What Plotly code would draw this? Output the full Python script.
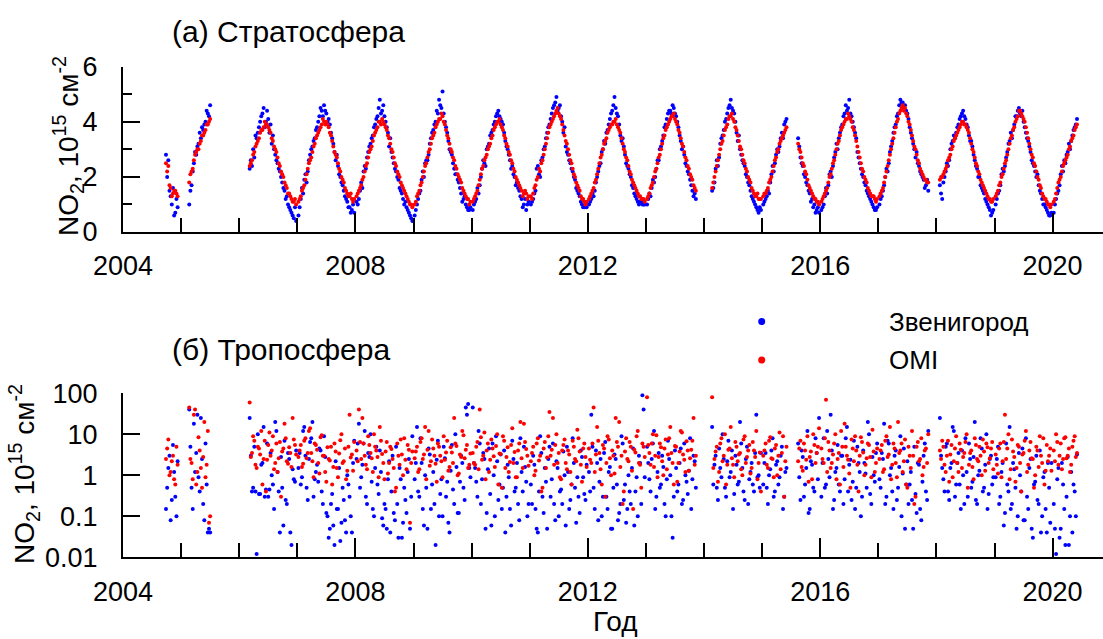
import plotly.graph_objects as go

# First measurement series: observation dates (decimal years), shared by both panels
obs_dates = [
    2004.74, 2004.78, 2004.82, 2004.86, 2004.90, 2004.94,
    2005.14, 2005.18, 2005.22, 2005.26, 2005.30, 2005.34, 2005.38, 2005.42, 2005.46, 2005.50,
    2006.18, 2006.22, 2006.26, 2006.30, 2006.34, 2006.38, 2006.42, 2006.46, 2006.50, 2006.54, 2006.58,
    2006.62, 2006.66, 2006.70, 2006.74, 2006.78, 2006.82, 2006.86, 2006.90, 2006.94, 2006.98,
    2007.02, 2007.06, 2007.10, 2007.14, 2007.18, 2007.22, 2007.26, 2007.30, 2007.34, 2007.38, 2007.42, 2007.46,
    2007.50, 2007.54, 2007.58, 2007.62, 2007.66, 2007.70, 2007.74, 2007.78, 2007.82, 2007.86, 2007.90, 2007.94, 2007.98,
    2008.02, 2008.06, 2008.10, 2008.14, 2008.18, 2008.22, 2008.26, 2008.30, 2008.34, 2008.38, 2008.42, 2008.46,
    2008.50, 2008.54, 2008.58, 2008.62, 2008.66, 2008.70, 2008.74, 2008.78, 2008.82, 2008.86, 2008.90, 2008.94, 2008.98,
    2009.02, 2009.06, 2009.10, 2009.14, 2009.18, 2009.22, 2009.26, 2009.30, 2009.34, 2009.38, 2009.42, 2009.46,
    2009.50, 2009.54, 2009.58, 2009.62, 2009.66, 2009.70, 2009.74, 2009.78, 2009.82, 2009.86, 2009.90, 2009.94, 2009.98,
    2010.02, 2010.06, 2010.10, 2010.14, 2010.18, 2010.22, 2010.26, 2010.30, 2010.34, 2010.38, 2010.42, 2010.46,
    2010.50, 2010.54, 2010.58, 2010.62, 2010.66, 2010.70, 2010.74, 2010.78, 2010.82, 2010.86, 2010.90, 2010.94, 2010.98,
    2011.02, 2011.06, 2011.10, 2011.14, 2011.18, 2011.22, 2011.26, 2011.30, 2011.34, 2011.38, 2011.42, 2011.46,
    2011.50, 2011.54, 2011.58, 2011.62, 2011.66, 2011.70, 2011.74, 2011.78, 2011.82, 2011.86, 2011.90, 2011.94, 2011.98,
    2012.02, 2012.06, 2012.10, 2012.14, 2012.18, 2012.22, 2012.26, 2012.30, 2012.34, 2012.38, 2012.42, 2012.46,
    2012.50, 2012.54, 2012.58, 2012.62, 2012.66, 2012.70, 2012.74, 2012.78, 2012.82, 2012.86, 2012.90, 2012.94, 2012.98,
    2013.02, 2013.06, 2013.10, 2013.14, 2013.18, 2013.22, 2013.26, 2013.30, 2013.34, 2013.38, 2013.42, 2013.46,
    2013.50, 2013.54, 2013.58, 2013.62, 2013.66, 2013.70, 2013.74, 2013.78, 2013.82, 2013.86,
    2014.14, 2014.18, 2014.22, 2014.26, 2014.30, 2014.34, 2014.38, 2014.42, 2014.46, 2014.50, 2014.54,
    2014.58, 2014.62, 2014.66, 2014.70, 2014.74, 2014.78, 2014.82, 2014.86, 2014.90, 2014.94, 2014.98,
    2015.02, 2015.06, 2015.10, 2015.14, 2015.18, 2015.22, 2015.26, 2015.30, 2015.34, 2015.38, 2015.42,
    2015.62, 2015.66, 2015.70, 2015.74, 2015.78, 2015.82, 2015.86, 2015.90, 2015.94, 2015.98,
    2016.02, 2016.06, 2016.10, 2016.14, 2016.18, 2016.22, 2016.26, 2016.30, 2016.34, 2016.38, 2016.42, 2016.46,
    2016.50, 2016.54, 2016.58, 2016.62, 2016.66, 2016.70, 2016.74, 2016.78, 2016.82, 2016.86, 2016.90, 2016.94, 2016.98,
    2017.02, 2017.06, 2017.10, 2017.14, 2017.18, 2017.22, 2017.26, 2017.30, 2017.34, 2017.38, 2017.42, 2017.46,
    2017.50, 2017.54, 2017.58, 2017.62, 2017.66, 2017.70, 2017.74, 2017.78, 2017.82, 2017.86,
    2018.06, 2018.10, 2018.14, 2018.18, 2018.22, 2018.26, 2018.30, 2018.34, 2018.38, 2018.42, 2018.46, 2018.50,
    2018.54, 2018.58, 2018.62, 2018.66, 2018.70, 2018.74, 2018.78, 2018.82, 2018.86, 2018.90, 2018.94, 2018.98,
    2019.02, 2019.06, 2019.10, 2019.14, 2019.18, 2019.22, 2019.26, 2019.30, 2019.34, 2019.38, 2019.42, 2019.46,
    2019.50, 2019.54, 2019.58, 2019.62, 2019.66, 2019.70, 2019.74, 2019.78, 2019.82, 2019.86, 2019.90, 2019.94, 2019.98,
    2020.02, 2020.06, 2020.10, 2020.14, 2020.18, 2020.22, 2020.26, 2020.30, 2020.34, 2020.38, 2020.42,
]

# Stratospheric NO2 column, 10^15 cm^-2 — Zvenigorod station
strat_zvn = [
    2.8, 2.6, 1.3, 1.6, 0.7, 0.9,
    1.0, 1.7, 2.5, 2.8, 3.2, 3.4, 3.7, 4.0, 4.3, 4.6,
    2.3, 2.4, 2.7, 3.4, 3.8, 4.2, 4.5, 4.0, 4.1, 3.9, 3.5, 2.8, 2.5, 2.2, 1.8, 1.5, 1.3, 0.9, 0.7, 0.5, 0.4,
    0.6, 1.2, 1.4, 2.1, 2.2, 2.8, 3.1, 3.4, 3.8, 4.2, 4.4, 4.6, 4.3, 4.1, 3.6, 3.2, 2.6, 2.4, 2.0, 1.7, 1.3, 1.1, 0.9, 0.8, 0.7,
    1.1, 1.2, 1.8, 2.2, 2.3, 2.9, 3.2, 3.5, 3.9, 4.2, 4.8, 4.4, 4.2, 3.8, 3.1, 2.9, 2.5, 2.2, 1.9, 1.5, 1.2, 1.1, 0.8, 0.6, 0.4,
    0.6, 1.0, 1.4, 1.9, 2.0, 2.6, 2.8, 3.4, 3.7, 4.0, 4.3, 4.6, 5.1, 4.0, 3.6, 3.0, 2.8, 2.3, 2.1, 1.8, 1.4, 1.2, 1.0, 0.8, 0.9,
    0.8, 1.1, 1.6, 1.7, 2.3, 2.5, 3.0, 3.2, 3.6, 3.9, 4.2, 4.4, 4.1, 3.9, 3.3, 3.0, 2.6, 2.4, 2.0, 1.8, 1.5, 1.2, 1.0, 0.8, 1.1,
    1.0, 1.2, 1.5, 2.4, 2.0, 2.7, 3.1, 3.6, 3.9, 4.3, 4.6, 4.9, 4.5, 4.2, 3.6, 3.1, 2.8, 2.5, 2.2, 1.9, 1.5, 1.3, 1.0, 0.9, 0.9,
    1.0, 1.2, 1.3, 1.8, 2.2, 2.5, 3.0, 3.2, 3.7, 4.1, 4.4, 4.9, 4.3, 3.9, 3.3, 3.1, 2.5, 2.3, 2.0, 1.6, 1.3, 1.1, 1.1, 1.0, 1.0,
    1.0, 1.4, 1.6, 1.8, 2.3, 2.6, 3.1, 3.5, 3.9, 4.3, 4.4, 4.6, 4.3, 4.0, 3.5, 3.0, 2.8, 2.4, 2.1, 1.7, 1.3, 1.2,
    1.5, 1.8, 2.6, 2.7, 3.4, 3.7, 4.1, 4.5, 4.8, 4.4, 4.0, 3.3, 3.0, 2.6, 2.4, 2.0, 1.7, 1.3, 1.1, 0.9, 0.7, 0.8,
    1.0, 1.2, 1.5, 1.8, 2.4, 2.5, 3.0, 3.1, 3.6, 3.9, 4.1, 3.4, 2.7, 2.4, 2.0, 1.7, 1.4, 1.2, 1.0, 0.8, 0.7,
    0.8, 1.0, 1.6, 1.7, 2.2, 2.4, 2.9, 3.0, 3.6, 3.9, 4.3, 4.4, 4.8, 4.2, 3.8, 3.4, 2.7, 2.3, 2.0, 1.7, 1.4, 1.2, 1.0, 0.8, 0.9,
    1.0, 1.3, 1.7, 2.3, 2.5, 3.1, 3.6, 3.9, 4.3, 4.8, 4.7, 4.6, 4.3, 3.8, 3.4, 3.0, 2.9, 2.4, 2.1, 1.9, 1.7, 1.5,
    1.7, 1.2, 2.0, 2.5, 2.6, 3.2, 3.5, 3.6, 3.9, 4.2, 4.4, 4.1, 3.8, 3.3, 3.1, 2.6, 2.3, 2.0, 1.6, 1.4, 1.1, 0.9, 0.6, 0.8,
    1.0, 1.4, 1.7, 2.3, 2.4, 2.9, 3.3, 3.4, 3.9, 4.2, 4.5, 4.2, 4.0, 3.6, 3.3, 2.9, 2.5, 2.2, 2.1, 1.5, 1.2, 1.0, 0.8, 0.6, 0.7,
    0.7, 1.2, 1.5, 2.1, 2.2, 2.5, 2.9, 3.0, 3.5, 3.8, 4.1,
]

# Stratospheric NO2 column, 10^15 cm^-2 — OMI
strat_omi = [
    2.5, 2.4, 1.6, 1.4, 1.5, 1.3,
    1.8, 2.2, 2.6, 2.9, 3.0, 3.3, 3.5, 3.7, 3.9, 4.1,
    2.4, 2.6, 2.9, 3.2, 3.4, 3.7, 3.8, 3.9, 3.8, 3.6, 3.3, 3.0, 2.7, 2.4, 2.1, 1.8, 1.6, 1.4, 1.2, 1.1, 1.0,
    1.1, 1.3, 1.6, 1.9, 2.3, 2.6, 2.9, 3.2, 3.5, 3.7, 3.9, 4.0, 4.0, 3.8, 3.5, 3.1, 2.8, 2.5, 2.2, 1.9, 1.6, 1.4, 1.3, 1.2, 1.2,
    1.3, 1.5, 1.7, 2.0, 2.4, 2.7, 3.0, 3.3, 3.6, 3.8, 4.0, 4.1, 3.9, 3.7, 3.4, 3.0, 2.7, 2.4, 2.1, 1.8, 1.6, 1.4, 1.2, 1.0, 0.9,
    1.0, 1.3, 1.5, 1.8, 2.2, 2.5, 2.9, 3.2, 3.5, 3.8, 4.0, 4.1, 4.2, 3.9, 3.5, 3.2, 2.9, 2.6, 2.3, 2.0, 1.8, 1.5, 1.3, 1.2, 1.1,
    1.1, 1.3, 1.5, 1.9, 2.3, 2.6, 2.8, 3.1, 3.4, 3.7, 3.9, 4.0, 3.9, 3.7, 3.4, 3.1, 2.8, 2.5, 2.2, 1.9, 1.7, 1.5, 1.4, 1.4, 1.3,
    1.3, 1.4, 1.7, 2.0, 2.2, 2.6, 3.0, 3.4, 3.8, 4.0, 4.2, 4.4, 4.3, 4.1, 3.7, 3.3, 3.0, 2.6, 2.3, 2.0, 1.7, 1.5, 1.2, 1.1, 1.1,
    1.2, 1.4, 1.6, 1.9, 2.3, 2.7, 3.0, 3.3, 3.6, 3.8, 3.9, 4.0, 3.9, 3.7, 3.4, 3.0, 2.7, 2.4, 2.1, 1.8, 1.6, 1.4, 1.3, 1.2, 1.1,
    1.2, 1.4, 1.7, 2.0, 2.3, 2.7, 3.0, 3.4, 3.7, 3.9, 4.1, 4.2, 4.1, 3.9, 3.6, 3.2, 2.9, 2.6, 2.3, 2.0, 1.7, 1.5,
    1.6, 2.0, 2.4, 2.8, 3.2, 3.5, 3.8, 4.1, 4.2, 4.1, 3.8, 3.5, 3.1, 2.8, 2.5, 2.2, 1.9, 1.6, 1.4, 1.3, 1.2, 1.2,
    1.3, 1.4, 1.6, 1.9, 2.2, 2.6, 2.9, 3.2, 3.4, 3.6, 3.8, 3.2, 2.9, 2.5, 2.2, 1.9, 1.6, 1.4, 1.2, 1.1, 1.0,
    1.1, 1.3, 1.5, 1.8, 2.1, 2.5, 2.8, 3.2, 3.5, 3.8, 4.0, 4.1, 4.2, 4.0, 3.7, 3.3, 2.9, 2.5, 2.2, 1.9, 1.6, 1.4, 1.3, 1.2, 1.2,
    1.3, 1.5, 1.8, 2.2, 2.6, 3.0, 3.4, 3.8, 4.1, 4.4, 4.6, 4.5, 4.2, 3.9, 3.5, 3.1, 2.8, 2.5, 2.2, 2.0, 1.9, 1.8,
    1.9, 2.0, 2.2, 2.4, 2.7, 3.0, 3.3, 3.5, 3.7, 3.9, 4.0, 3.9, 3.7, 3.4, 3.0, 2.7, 2.4, 2.1, 1.8, 1.6, 1.4, 1.2, 1.1, 1.2,
    1.3, 1.5, 1.8, 2.1, 2.5, 2.8, 3.2, 3.5, 3.8, 4.1, 4.4, 4.3, 4.1, 3.8, 3.4, 3.0, 2.7, 2.4, 2.0, 1.7, 1.4, 1.2, 1.1, 1.0, 1.0,
    1.1, 1.4, 1.8, 2.0, 2.4, 2.6, 2.8, 3.1, 3.4, 3.7, 3.9,
]

# Tropospheric NO2 column, 10^15 cm^-2 — Zvenigorod station
trop_zvn = [
    0.15, 1.5, 0.08, 5.5, 0.3, 2.2,
    40, 0.5, 18, 3.5, 0.9, 25, 0.2, 6.0, 0.04, 0.04,
    25, 0.4, 5.0, 0.012, 0.35, 1.8, 15, 0.45, 0.3, 3.5, 0.6, 20, 1.2, 0.04, 0.5, 7.0, 0.2, 2.5, 0.02, 0.8, 4.0,
    1.5, 0.6, 12, 3.0, 0.25, 6.5, 20, 0.8, 1.8, 4.5, 0.4, 9.0, 0.12, 0.03, 0.2, 0.06, 2.2, 0.15, 0.025, 0.5, 0.08, 1.0, 0.3, 0.04, 7.0,
    2.5, 18, 0.9, 6.0, 0.3, 3.5, 10, 0.15, 1.5, 0.6, 4.0, 0.09, 0.2, 0.05, 2.2, 0.4, 0.12, 5.0, 0.03, 0.8, 0.07, 0.25, 1.2, 0.05, 9.0,
    0.8, 15, 0.3, 2.0, 0.06, 0.5, 4.5, 0.15, 1.2, 0.02, 7.0, 0.35, 0.1, 2.6, 0.7, 0.04, 5.5, 0.2, 1.6, 0.12, 3.0, 0.5, 45, 55, 0.9,
    45, 1.5, 0.3, 6.0, 0.8, 2.5, 0.12, 4.5, 0.06, 1.0, 9.0, 0.25, 3.2, 0.5, 0.04, 1.8, 0.15, 7.0, 0.4, 2.0, 0.08, 1.2, 5.0, 0.7, 0.2,
    0.6, 3.0, 0.15, 0.04, 9.0, 0.3, 1.5, 0.05, 5.0, 0.8, 0.2, 2.2, 0.1, 0.45, 3.8, 0.06, 1.2, 0.25, 8.0, 0.5, 0.9, 0.12, 2.8, 0.35, 1.8,
    1.2, 30, 0.5, 4.0, 0.08, 2.5, 0.3, 6.5, 0.15, 1.6, 0.05, 3.2, 0.6, 0.12, 9.0, 0.25, 0.07, 1.0, 0.2, 4.5, 0.4, 0.1, 2.0, 90, 0.9,
    5.0, 0.8, 2.5, 12, 0.3, 3.5, 0.6, 1.6, 0.1, 7.0, 1.0, 0.03, 4.0, 0.4, 2.0, 0.2, 6.0, 0.7, 1.3, 0.15, 3.0, 0.5,
    15, 1.8, 0.5, 4.5, 0.9, 2.5, 0.3, 7.0, 1.2, 0.15, 3.0, 0.6, 20, 1.5, 0.25, 5.0, 0.8, 2.0, 0.4, 30, 1.0, 3.5,
    0.6, 3.5, 0.2, 1.4, 8.0, 0.4, 2.2, 0.9, 5.0, 0.3, 1.5, 6.0, 0.25, 2.8, 0.6, 12, 0.15, 1.8, 0.4, 3.5, 25,
    0.3, 8.0, 0.6, 2.5, 30, 0.15, 1.2, 5.5, 0.4, 3.0, 0.8, 15, 1.8, 0.25, 7.0, 0.5, 2.0, 0.1, 4.0, 1.1, 20, 0.35, 2.8, 0.7, 6.0,
    0.8, 3.5, 18, 0.3, 6.0, 1.5, 0.15, 4.0, 0.5, 9.0, 1.1, 0.05, 2.2, 0.6, 0.25, 5.0, 0.12, 1.8, 0.08, 3.0, 0.4, 12,
    25, 1.5, 0.4, 6.0, 0.25, 2.0, 12, 0.6, 3.5, 0.15, 1.0, 8.0, 0.3, 2.5, 0.7, 20, 0.2, 1.3, 4.5, 0.5, 10, 0.35, 3.0, 0.9,
    0.9, 5.0, 0.3, 2.0, 0.12, 0.6, 15, 0.2, 1.4, 0.05, 3.5, 0.4, 0.08, 8.0, 0.15, 2.5, 0.03, 0.7, 0.25, 4.0, 0.1, 1.2, 0.04, 0.5, 2.0,
    0.2, 0.012, 1.5, 0.05, 0.6, 0.02, 2.8, 0.1, 0.04, 0.4, 3.2,
]

# Tropospheric NO2 column, 10^15 cm^-2 — OMI
trop_omi = [
    2.5, 7.5, 1.2, 3.0, 0.6, 1.8,
    45, 2.0, 30, 0.6, 8.5, 1.5, 2.8, 0.9, 12, 0.1,
    60, 3.5, 7.0, 1.5, 4.5, 12, 2.5, 0.4, 5.5, 3.0, 9.0, 2.0, 1.2, 6.5, 3.8, 18, 2.2, 4.8, 1.6, 7.5, 3.2,
    2.8, 5.5, 1.9, 8.0, 3.5, 14, 2.2, 6.0, 4.2, 1.1, 9.5, 3.0, 0.7, 2.5, 5.0, 1.6, 3.8, 0.9, 7.2, 2.0, 4.5, 1.3, 30, 3.2, 6.5,
    4.0, 40, 2.5, 6.0, 1.8, 9.0, 3.5, 1.2, 5.0, 2.8, 15, 3.3, 0.8, 6.5, 2.0, 4.4, 1.5, 0.5, 3.0, 7.5, 1.0, 2.4, 5.5, 0.07, 3.8,
    2.6, 5.0, 1.4, 8.0, 3.2, 0.8, 12, 2.2, 4.5, 1.9, 6.0, 3.0, 0.9, 2.4, 7.0, 1.6, 3.6, 25, 5.2, 1.1, 2.8, 9.5, 4.2, 1.5, 3.4,
    3.5, 1.8, 6.5, 40, 2.4, 11, 4.0, 1.2, 7.5, 2.9, 5.2, 0.6, 3.3, 9.0, 1.5, 4.8, 2.1, 14, 3.7, 0.9, 6.0, 2.6, 18, 4.4, 1.7,
    2.2, 5.0, 1.3, 8.0, 3.0, 0.5, 6.5, 2.7, 35, 4.2, 1.8, 10, 3.5, 0.8, 5.5, 2.0, 4.0, 1.2, 7.0, 2.5, 13, 3.8, 0.7, 6.0, 1.6,
    4.5, 2.0, 45, 3.2, 7.0, 1.4, 5.5, 0.3, 9.0, 2.6, 4.0, 1.1, 6.5, 20, 3.0, 0.4, 8.0, 2.2, 5.0, 0.15, 3.6, 12, 1.8, 6.0, 2.8,
    80, 3.5, 6.0, 1.6, 9.5, 2.8, 4.8, 1.0, 7.5, 3.2, 15, 2.0, 5.2, 0.7, 3.8, 11, 2.4, 6.8, 1.3, 4.2, 25, 3.0,
    80, 2.5, 5.0, 1.2, 8.0, 3.0, 0.6, 4.2, 15, 1.8, 6.5, 2.2, 3.5, 1.0, 9.0, 2.8, 5.5, 1.5, 4.0, 12, 2.0, 0.4,
    3.0, 6.0, 1.5, 8.5, 2.5, 4.5, 1.0, 11, 3.5, 0.3, 5.0, 2.2, 7.0, 1.3, 4.0, 9.0, 2.8, 0.8, 5.5, 3.5, 14,
    4.5, 2.0, 70, 6.5, 1.5, 3.2, 10, 2.5, 0.6, 5.0, 18, 3.0, 1.1, 7.5, 2.2, 4.0, 0.4, 8.5, 3.6, 1.8, 6.0, 2.8, 13, 1.2, 4.5,
    2.5, 5.5, 1.4, 9.0, 3.2, 0.8, 6.0, 2.0, 20, 4.0, 1.2, 7.5, 0.5, 3.0, 12, 0.2, 5.0, 2.2, 8.0, 1.6, 4.5, 10,
    4.0, 7.0, 1.8, 3.0, 0.7, 5.5, 2.2, 9.0, 1.2, 4.2, 2.8, 6.5, 0.5, 3.5, 1.6, 8.0, 2.5, 5.0, 1.0, 3.8, 6.0, 2.0, 4.5, 1.4,
    3.2, 1.1, 6.0, 2.2, 30, 4.5, 0.8, 7.5, 2.8, 1.5, 5.0, 0.4, 3.5, 12, 1.8, 6.5, 2.5, 1.0, 4.0, 9.0, 2.0, 0.6, 5.5, 3.0, 1.3,
    4.0, 10, 1.8, 6.0, 2.5, 8.5, 3.0, 1.2, 5.0, 9.0, 3.5,
]

# Second measurement series: observation dates (decimal years)
obs_dates_2 = [
    2004.76, 2004.80, 2004.84, 2004.88, 2004.92,
    2005.16, 2005.20, 2005.24, 2005.28, 2005.32, 2005.36, 2005.40, 2005.44, 2005.48,
    2006.20, 2006.24, 2006.28, 2006.32, 2006.36, 2006.40, 2006.44, 2006.48, 2006.52, 2006.56,
    2006.60, 2006.64, 2006.68, 2006.72, 2006.76, 2006.80, 2006.84, 2006.88, 2006.92, 2006.96,
    2007.04, 2007.08, 2007.12, 2007.16, 2007.20, 2007.24, 2007.28, 2007.32, 2007.36, 2007.40, 2007.44, 2007.48,
    2007.52, 2007.56, 2007.60, 2007.64, 2007.68, 2007.72, 2007.76, 2007.80, 2007.84, 2007.88, 2007.92, 2007.96,
    2008.04, 2008.08, 2008.12, 2008.16, 2008.20, 2008.24, 2008.28, 2008.32, 2008.36, 2008.40, 2008.44, 2008.48,
    2008.52, 2008.56, 2008.60, 2008.64, 2008.68, 2008.72, 2008.76, 2008.80, 2008.84, 2008.88, 2008.92, 2008.96,
    2009.04, 2009.08, 2009.12, 2009.16, 2009.20, 2009.24, 2009.28, 2009.32, 2009.36, 2009.40, 2009.44, 2009.48,
    2009.52, 2009.56, 2009.60, 2009.64, 2009.68, 2009.72, 2009.76, 2009.80, 2009.84, 2009.88, 2009.92, 2009.96,
    2010.04, 2010.08, 2010.12, 2010.16, 2010.20, 2010.24, 2010.28, 2010.32, 2010.36, 2010.40, 2010.44, 2010.48,
    2010.52, 2010.56, 2010.60, 2010.64, 2010.68, 2010.72, 2010.76, 2010.80, 2010.84, 2010.88, 2010.92, 2010.96,
    2011.04, 2011.08, 2011.12, 2011.16, 2011.20, 2011.24, 2011.28, 2011.32, 2011.36, 2011.40, 2011.44, 2011.48,
    2011.52, 2011.56, 2011.60, 2011.64, 2011.68, 2011.72, 2011.76, 2011.80, 2011.84, 2011.88, 2011.92, 2011.96,
    2012.04, 2012.08, 2012.12, 2012.16, 2012.20, 2012.24, 2012.28, 2012.32, 2012.36, 2012.40, 2012.44, 2012.48,
    2012.52, 2012.56, 2012.60, 2012.64, 2012.68, 2012.72, 2012.76, 2012.80, 2012.84, 2012.88, 2012.92, 2012.96,
    2013.04, 2013.08, 2013.12, 2013.16, 2013.20, 2013.24, 2013.28, 2013.32, 2013.36, 2013.40, 2013.44,
    2013.48, 2013.52, 2013.56, 2013.60, 2013.64, 2013.68, 2013.72, 2013.76, 2013.80, 2013.84,
    2014.16, 2014.20, 2014.24, 2014.28, 2014.32, 2014.36, 2014.40, 2014.44, 2014.48, 2014.52, 2014.56,
    2014.60, 2014.64, 2014.68, 2014.72, 2014.76, 2014.80, 2014.84, 2014.88, 2014.92, 2014.96,
    2015.04, 2015.08, 2015.12, 2015.16, 2015.20, 2015.24, 2015.28, 2015.32, 2015.36, 2015.40,
    2015.64, 2015.68, 2015.72, 2015.76, 2015.80, 2015.84, 2015.88, 2015.92, 2015.96,
    2016.04, 2016.08, 2016.12, 2016.16, 2016.20, 2016.24, 2016.28, 2016.32, 2016.36, 2016.40, 2016.44, 2016.48,
    2016.52, 2016.56, 2016.60, 2016.64, 2016.68, 2016.72, 2016.76, 2016.80, 2016.84, 2016.88, 2016.92, 2016.96,
    2017.04, 2017.08, 2017.12, 2017.16, 2017.20, 2017.24, 2017.28, 2017.32, 2017.36, 2017.40, 2017.44,
    2017.48, 2017.52, 2017.56, 2017.60, 2017.64, 2017.68, 2017.72, 2017.76, 2017.80, 2017.84,
    2018.08, 2018.12, 2018.16, 2018.20, 2018.24, 2018.28, 2018.32, 2018.36, 2018.40, 2018.44, 2018.48, 2018.52,
    2018.56, 2018.60, 2018.64, 2018.68, 2018.72, 2018.76, 2018.80, 2018.84, 2018.88, 2018.92, 2018.96,
    2019.04, 2019.08, 2019.12, 2019.16, 2019.20, 2019.24, 2019.28, 2019.32, 2019.36, 2019.40, 2019.44, 2019.48,
    2019.52, 2019.56, 2019.60, 2019.64, 2019.68, 2019.72, 2019.76, 2019.80, 2019.84, 2019.88, 2019.92, 2019.96,
    2020.04, 2020.08, 2020.12, 2020.16, 2020.20, 2020.24, 2020.28, 2020.32, 2020.36, 2020.40,
]

strat_zvn_2 = [
    2.0, 1.5, 1.0, 0.6, 1.2,
    1.5, 2.2, 2.9, 3.1, 3.6, 3.8, 3.9, 4.4, 4.2,
    2.6, 3.0, 3.5, 3.6, 4.0, 4.3, 3.8, 4.4, 3.6, 3.2, 3.0, 2.6, 2.3, 2.0, 1.6, 1.2, 1.0, 0.8, 0.6, 0.9,
    0.9, 1.6, 1.9, 1.8, 2.6, 3.0, 3.3, 3.7, 4.0, 4.5, 4.2, 4.4, 4.0, 3.9, 3.4, 2.9, 2.8, 2.1, 1.8, 1.5, 1.2, 0.9, 0.7, 1.0,
    1.0, 1.5, 1.6, 2.4, 2.7, 3.1, 3.4, 3.8, 4.1, 4.5, 4.3, 4.6, 4.0, 3.6, 3.4, 2.7, 2.3, 2.0, 1.6, 1.4, 1.0, 0.9, 0.7, 0.5,
    0.8, 1.2, 1.5, 2.2, 2.5, 2.6, 3.2, 3.6, 3.9, 4.4, 4.8, 4.5, 4.3, 3.8, 3.3, 2.9, 2.5, 2.1, 1.9, 1.6, 1.1, 1.3, 0.9, 0.8,
    1.0, 1.2, 1.4, 2.0, 2.6, 2.4, 3.1, 3.5, 3.7, 4.0, 4.3, 4.2, 4.0, 3.6, 3.1, 2.8, 2.3, 2.1, 1.7, 1.6, 1.3, 0.9, 1.2, 1.0,
    1.1, 1.4, 2.3, 2.1, 2.6, 3.0, 3.4, 3.8, 4.1, 4.5, 4.7, 4.4, 4.6, 4.0, 3.8, 2.9, 2.6, 2.3, 2.0, 1.6, 1.4, 1.1, 0.9, 1.0,
    1.1, 1.4, 1.5, 2.0, 2.4, 2.9, 3.3, 3.6, 3.9, 4.3, 4.6, 4.5, 4.2, 3.5, 3.4, 2.8, 2.4, 2.1, 1.7, 1.4, 1.2, 1.0, 1.1, 1.0,
    1.2, 1.3, 1.9, 2.0, 2.6, 3.0, 3.3, 3.8, 4.1, 4.4, 4.3, 4.5, 4.2, 3.8, 3.3, 3.1, 2.5, 2.2, 1.9, 1.5, 1.4,
    1.6, 2.3, 2.4, 3.2, 3.5, 4.0, 4.3, 4.6, 4.5, 4.3, 3.6, 3.5, 2.8, 2.5, 2.1, 1.8, 1.5, 1.2, 1.0, 0.8, 0.9,
    1.1, 1.3, 1.4, 2.1, 2.2, 2.8, 2.9, 3.4, 3.4, 4.0, 3.1, 2.5, 2.1, 1.8, 1.5, 1.1, 0.9, 0.7, 0.9,
    0.9, 1.3, 1.4, 2.1, 2.0, 2.7, 3.2, 3.4, 3.8, 4.2, 4.6, 4.5, 4.3, 4.0, 3.6, 2.9, 2.5, 2.1, 1.8, 1.5, 1.3, 1.1, 0.9, 0.8,
    1.2, 1.5, 2.0, 2.2, 2.9, 3.3, 3.8, 4.2, 4.6, 4.7, 4.5, 4.4, 4.1, 3.6, 3.2, 2.7, 2.5, 2.2, 2.0, 1.6, 1.9,
    1.4, 1.8, 2.2, 2.4, 3.0, 3.3, 3.4, 3.8, 4.1, 4.3, 4.2, 3.9, 3.5, 3.3, 2.8, 2.4, 2.0, 1.7, 1.5, 1.2, 1.0, 0.8, 0.7,
    1.2, 1.5, 2.1, 2.2, 2.7, 3.2, 3.6, 3.7, 4.2, 4.4, 4.3, 4.4, 3.8, 3.4, 3.1, 2.6, 2.4, 2.0, 1.7, 1.4, 1.0, 0.9, 0.7, 0.6,
    1.0, 1.4, 1.7, 2.4, 2.6, 2.8, 3.2, 3.3, 3.7, 3.9,
]

strat_omi_2 = [
    2.2, 1.7, 1.3, 1.5, 1.4,
    2.1, 2.3, 2.8, 3.0, 3.2, 3.5, 3.6, 3.9, 4.0,
    2.5, 2.8, 3.1, 3.3, 3.6, 3.7, 4.0, 3.9, 3.7, 3.4, 3.1, 2.9, 2.5, 2.2, 2.0, 1.7, 1.4, 1.3, 1.1, 1.2,
    1.2, 1.5, 1.7, 2.1, 2.5, 2.7, 3.1, 3.4, 3.6, 3.8, 4.1, 3.9, 3.9, 3.6, 3.3, 2.9, 2.7, 2.3, 2.0, 1.8, 1.5, 1.3, 1.4, 1.1,
    1.4, 1.6, 1.9, 2.2, 2.5, 2.9, 3.1, 3.5, 3.7, 4.0, 3.9, 4.0, 3.8, 3.5, 3.2, 2.9, 2.5, 2.2, 2.0, 1.7, 1.5, 1.3, 1.1, 1.0,
    1.1, 1.4, 1.7, 2.0, 2.4, 2.7, 3.0, 3.4, 3.6, 3.9, 4.1, 4.3, 4.0, 3.7, 3.4, 3.0, 2.7, 2.4, 2.1, 1.9, 1.6, 1.4, 1.2, 1.0,
    1.2, 1.4, 1.7, 2.1, 2.4, 2.7, 3.0, 3.2, 3.5, 3.8, 4.0, 4.1, 3.8, 3.5, 3.2, 2.9, 2.6, 2.3, 2.0, 1.8, 1.6, 1.3, 1.5, 1.2,
    1.2, 1.6, 1.9, 2.3, 2.5, 2.8, 3.2, 3.6, 3.9, 4.1, 4.3, 4.5, 4.2, 3.9, 3.5, 3.2, 2.8, 2.5, 2.1, 1.8, 1.6, 1.3, 1.2, 1.0,
    1.3, 1.5, 1.8, 2.1, 2.5, 2.8, 3.2, 3.4, 3.7, 3.9, 4.0, 4.1, 3.8, 3.6, 3.2, 2.9, 2.6, 2.2, 1.9, 1.7, 1.5, 1.3, 1.2, 1.2,
    1.3, 1.6, 1.8, 2.2, 2.5, 2.8, 3.2, 3.5, 3.8, 4.0, 4.2, 4.3, 4.0, 3.7, 3.4, 3.1, 2.7, 2.4, 2.1, 1.9, 1.6,
    1.8, 2.2, 2.6, 3.0, 3.3, 3.7, 3.9, 4.2, 4.3, 4.0, 3.7, 3.3, 3.0, 2.6, 2.3, 2.0, 1.8, 1.5, 1.3, 1.4, 1.2,
    1.4, 1.5, 1.8, 2.0, 2.4, 2.7, 3.0, 3.3, 3.5, 3.7, 3.0, 2.7, 2.4, 2.1, 1.7, 1.5, 1.3, 1.2, 1.1,
    1.2, 1.4, 1.6, 2.0, 2.3, 2.6, 3.0, 3.3, 3.7, 3.9, 4.1, 4.3, 4.1, 3.8, 3.5, 3.1, 2.7, 2.3, 2.0, 1.8, 1.5, 1.3, 1.3, 1.1,
    1.4, 1.6, 2.0, 2.4, 2.8, 3.2, 3.6, 4.0, 4.3, 4.5, 4.4, 4.3, 4.0, 3.7, 3.3, 3.0, 2.6, 2.3, 2.1, 1.9, 1.8,
    2.0, 2.1, 2.3, 2.6, 2.8, 3.1, 3.4, 3.6, 3.8, 4.0, 3.9, 3.8, 3.6, 3.2, 2.9, 2.5, 2.2, 1.9, 1.7, 1.5, 1.3, 1.2, 1.1,
    1.4, 1.7, 2.0, 2.3, 2.6, 3.0, 3.4, 3.7, 4.0, 4.2, 4.4, 4.2, 4.0, 3.6, 3.2, 2.8, 2.5, 2.2, 1.9, 1.6, 1.3, 1.2, 1.0, 0.9,
    1.2, 1.6, 1.9, 2.2, 2.5, 2.7, 3.0, 3.3, 3.5, 3.8,
]

trop_zvn_2 = [
    0.5, 3.0, 0.25, 1.2, 0.1,
    5.0, 0.15, 1.2, 30, 0.4, 2.5, 0.08, 0.6, 0.05,
    3.0, 0.5, 0.4, 10, 0.35, 2.0, 0.3, 6.0, 0.45, 1.0, 0.15, 12, 0.4, 2.8, 0.06, 0.25, 3.5, 0.04, 1.4, 0.7,
    3.5, 0.9, 15, 0.5, 2.5, 8.0, 0.3, 1.2, 0.7, 4.0, 0.2, 2.8, 0.1, 0.05, 0.35, 0.02, 0.15, 1.5, 0.07, 0.25, 0.04, 0.6, 0.1, 2.0,
    6.0, 0.5, 1.8, 12, 0.2, 2.8, 0.7, 0.1, 5.0, 0.35, 1.2, 0.06, 0.15, 0.8, 0.04, 3.0, 0.08, 0.2, 1.5, 0.03, 0.5, 0.12, 2.5, 0.3,
    2.0, 0.4, 8.0, 0.15, 1.0, 0.05, 3.2, 0.6, 0.2, 2.4, 0.1, 0.8, 5.0, 0.3, 0.07, 1.3, 0.45, 10, 0.12, 0.7, 2.0, 0.25, 30, 1.5,
    2.0, 0.7, 12, 0.2, 3.5, 0.05, 1.4, 0.35, 6.0, 0.1, 2.2, 0.6, 0.15, 4.0, 0.3, 0.9, 0.06, 2.5, 0.5, 0.2, 8.0, 0.4, 1.6, 0.1,
    0.2, 1.8, 0.05, 0.4, 3.5, 0.12, 0.7, 2.5, 0.3, 6.0, 0.08, 1.5, 0.4, 0.2, 1.0, 5.0, 0.15, 0.6, 2.0, 0.07, 0.3, 4.0, 0.9, 0.25,
    0.4, 5.0, 0.15, 2.0, 0.7, 0.1, 3.5, 0.3, 1.2, 0.05, 0.5, 2.5, 0.08, 0.2, 6.0, 0.6, 0.15, 0.4, 1.5, 0.06, 0.9, 3.0, 0.2, 40,
    2.0, 0.4, 6.0, 0.15, 1.2, 0.5, 3.0, 0.2, 0.8, 2.5, 0.1, 0.3, 1.5, 0.6, 4.5, 0.25, 1.0, 0.35, 8.0, 0.8, 2.2,
    0.6, 3.0, 0.25, 1.5, 10, 0.5, 2.2, 0.9, 4.0, 0.35, 1.8, 0.7, 6.0, 0.4, 2.5, 0.2, 1.2, 0.6, 3.5, 0.9, 0.5,
    2.0, 0.5, 1.0, 4.0, 0.3, 1.8, 0.6, 3.0, 0.15, 1.2, 0.9, 4.0, 0.3, 1.5, 0.12, 2.2, 0.5, 8.0, 0.8,
    2.0, 0.5, 12, 0.9, 4.0, 0.25, 1.5, 0.6, 3.0, 0.2, 8.0, 0.4, 2.4, 0.7, 0.15, 5.0, 1.2, 0.3, 2.0, 0.5, 10, 0.2, 1.0, 3.5,
    0.5, 2.5, 0.2, 7.0, 1.0, 0.4, 3.0, 0.25, 1.6, 0.1, 4.5, 0.6, 0.2, 1.2, 0.05, 0.35, 2.0, 0.15, 0.7, 6.0, 0.25,
    3.0, 0.8, 5.0, 0.4, 1.5, 15, 0.3, 2.0, 0.6, 4.0, 0.2, 1.2, 6.0, 0.5, 2.8, 0.25, 1.0, 8.0, 0.4, 1.8, 0.15, 2.5, 0.6,
    2.5, 0.2, 1.2, 0.06, 6.0, 0.4, 0.15, 2.0, 0.5, 0.1, 1.0, 4.5, 0.08, 0.3, 1.5, 0.05, 0.6, 3.0, 0.2, 0.04, 0.9, 0.15, 2.0, 0.07,
    0.05, 0.8, 0.03, 2.0, 0.15, 0.3, 0.02, 1.2, 0.6, 0.1,
]

trop_omi_2 = [
    4.5, 1.0, 2.2, 0.8, 5.0,
    2.5, 0.8, 40, 1.2, 4.0, 0.5, 20, 1.8, 0.07,
    2.8, 9.0, 1.8, 5.0, 3.2, 0.6, 7.0, 2.4, 11, 4.0, 1.4, 6.0, 2.6, 0.3, 4.5, 8.0, 1.9, 3.5, 25, 5.5,
    4.0, 1.6, 7.0, 2.6, 12, 3.5, 0.9, 5.5, 2.0, 8.5, 3.0, 1.2, 4.8, 2.3, 0.6, 6.0, 1.5, 3.4, 10, 2.2, 0.8, 5.0, 2.7, 1.3,
    2.2, 6.5, 25, 3.0, 1.4, 5.5, 2.6, 10, 4.0, 0.9, 7.0, 2.0, 3.8, 1.1, 5.0, 2.5, 0.4, 6.0, 1.8, 3.2, 8.0, 1.4, 4.2, 2.0,
    3.8, 1.2, 6.5, 2.5, 15, 4.2, 1.7, 7.5, 3.0, 0.7, 5.0, 2.2, 9.0, 3.6, 1.3, 4.8, 2.0, 6.0, 1.0, 3.2, 12, 2.6, 5.5, 1.8,
    2.0, 5.0, 1.4, 8.5, 3.0, 0.8, 6.0, 2.4, 4.5, 1.6, 10, 3.4, 0.5, 7.0, 2.8, 1.2, 5.5, 2.0, 0.9, 4.0, 20, 1.5, 6.5, 3.0,
    3.5, 1.0, 6.0, 2.3, 0.4, 4.5, 1.5, 9.0, 3.0, 25, 5.5, 2.0, 0.9, 4.0, 7.5, 1.4, 3.2, 0.6, 5.0, 2.2, 8.0, 1.8, 4.5, 2.8,
    2.4, 6.0, 1.2, 15, 3.5, 0.6, 4.5, 2.0, 7.5, 1.0, 3.0, 25, 5.0, 1.6, 0.2, 3.8, 2.5, 6.5, 1.3, 4.2, 9.0, 2.0, 0.5, 5.0,
    5.5, 1.8, 10, 3.0, 0.9, 6.0, 2.2, 4.5, 1.4, 8.0, 3.5, 0.6, 5.0, 2.0, 12, 3.2, 1.2, 4.0, 2.6, 7.0, 1.8,
    1.5, 3.8, 0.7, 6.0, 2.2, 10, 1.8, 4.5, 2.6, 0.9, 5.0, 3.2, 1.4, 7.5, 2.0, 4.0, 1.1, 6.5, 2.8, 0.8, 3.6,
    4.0, 1.8, 7.0, 2.6, 0.9, 5.5, 3.0, 1.4, 9.0, 2.2, 4.5, 1.6, 6.0, 2.4, 0.7, 3.8, 10, 2.0, 5.0,
    2.5, 8.0, 1.2, 4.0, 2.0, 6.0, 0.8, 3.5, 12, 1.6, 5.0, 2.4, 0.5, 4.5, 9.0, 1.8, 3.0, 6.5, 1.0, 2.6, 5.5, 0.9, 3.8, 2.0,
    4.0, 1.2, 7.0, 2.8, 15, 1.8, 4.5, 0.9, 3.5, 6.0, 2.2, 0.6, 5.0, 1.5, 3.0, 0.3, 6.5, 2.5, 1.0, 4.0, 2.0,
    2.5, 5.0, 1.2, 7.0, 3.2, 0.9, 4.5, 2.0, 6.0, 1.5, 3.5, 10, 1.8, 4.0, 0.8, 5.5, 2.2, 3.0, 7.5, 1.3, 4.8, 2.6, 6.5,
    1.8, 4.5, 0.9, 6.5, 2.5, 10, 1.4, 3.8, 0.7, 5.5, 2.0, 3.2, 7.0, 1.2, 4.0, 2.6, 0.5, 5.0, 1.6, 3.0, 8.0, 1.3, 2.2, 4.5,
    2.2, 6.5, 3.0, 1.4, 8.0, 2.6, 4.5, 1.8, 7.0, 2.8,
]

assert len(obs_dates) == len(strat_zvn) == len(strat_omi) == len(trop_zvn) == len(trop_omi)
assert len(obs_dates_2) == len(strat_zvn_2) == len(strat_omi_2) == len(trop_zvn_2) == len(trop_omi_2)

# Axis ticks
year_major = [2004, 2008, 2012, 2016, 2020]
year_labels = ["2004", "2008", "2012", "2016", "2020"]
year_minor = [2005, 2006, 2007, 2009, 2010, 2011, 2013, 2014, 2015, 2017, 2018, 2019]
strat_major = [0, 2, 4, 6]
strat_minor = [1, 3, 5]
trop_ticks = [0.01, 0.1, 1, 10, 100]
trop_labels = ["0.01", "0.1", "1", "10", "100"]

series_names = ["Звенигород", "OMI"]
BLUE = "#0000ff"
RED = "#ff0000"
FONT = "Liberation Sans, Arial, sans-serif"

W, H = 1103, 639
LEFT = 123
PLOT_W = W - LEFT
PX_PER_YEAR = 58.1


def px_x(x):
    return (x - LEFT) / PLOT_W


def px_y(y):
    return 1 - y / H


dates_all = obs_dates + obs_dates_2
panels = (
    ("x", "y", strat_zvn + strat_zvn_2, strat_omi + strat_omi_2),
    ("x2", "y2", trop_zvn + trop_zvn_2, trop_omi + trop_omi_2),
)

fig = go.Figure()
for xa, ya, zvn, omi in panels:
    for ys, color, name in ((zvn, BLUE, series_names[0]), (omi, RED, series_names[1])):
        fig.add_trace(go.Scatter(x=dates_all, y=ys, mode="markers", name=name,
                                 marker=dict(color=color, size=4, line=dict(width=0)),
                                 xaxis=xa, yaxis=ya, showlegend=False))

axis_common = dict(showline=True, linecolor="black", linewidth=2, ticks="inside",
                   tickcolor="black", tickwidth=2, showgrid=False, zeroline=False,
                   automargin=False,
                   tickfont=dict(family=FONT, size=27, color="black"))

x_common = dict(axis_common, range=[2004, 2004 + PLOT_W / PX_PER_YEAR], tickmode="array",
                tickvals=year_major, ticktext=year_labels, ticklen=19,
                ticklabelstandoff=9,
                minor=dict(tickmode="array", tickvals=year_minor, ticks="inside",
                           ticklen=14, tickwidth=2, tickcolor="black"))

fig.update_layout(
    width=W, height=H,
    margin=dict(l=LEFT, r=0, t=0, b=0),
    paper_bgcolor="white", plot_bgcolor="white",
    showlegend=False,
    xaxis=dict(x_common, domain=[0, 1], anchor="y"),
    yaxis=dict(axis_common, domain=[px_y(232), px_y(66.7)], range=[0, 6],
               tickmode="array", tickvals=strat_major, ticklen=17, ticklabelstandoff=18,
               minor=dict(tickmode="array", tickvals=strat_minor, ticks="inside",
                          ticklen=9, tickwidth=2, tickcolor="black")),
    xaxis2=dict(x_common, domain=[0, 1], anchor="y2"),
    yaxis2=dict(axis_common, type="log", domain=[px_y(557.3), px_y(393.3)], range=[-2, 2],
                tickmode="array", tickvals=trop_ticks, ticktext=trop_labels,
                ticklen=17, ticklabelstandoff=18),
)

title_font = dict(family=FONT, size=30, color="black")
ytitle_font = dict(family=FONT, size=28, color="black")
xtitle_font = dict(family=FONT, size=28, color="black")
legend_font = dict(family=FONT, size=26, color="black")
ytitle = "NO<sub>2</sub>, 10<sup>15</sup> см<sup>-2</sup>"
annotations = [
    dict(text="(а) Стратосфера", x=px_x(170), y=px_y(31), xanchor="left", yanchor="middle", font=title_font),
    dict(text="(б) Тропосфера", x=px_x(170), y=px_y(349), xanchor="left", yanchor="middle", font=title_font),
    dict(text=ytitle, textangle=-90, x=px_x(68), y=px_y(146), xanchor="center", yanchor="middle", font=ytitle_font),
    dict(text=ytitle, textangle=-90, x=px_x(24), y=px_y(474), xanchor="center", yanchor="middle", font=ytitle_font),
    dict(text="Год", x=px_x(615), y=0, xanchor="center", yanchor="bottom", font=xtitle_font),
    dict(text=series_names[0], x=px_x(886.7), y=px_y(321.5), xanchor="left", yanchor="middle", font=legend_font),
    dict(text=series_names[1], x=px_x(886.7), y=px_y(360), xanchor="left", yanchor="middle", font=legend_font),
]
for a in annotations:
    a.update(xref="paper", yref="paper", showarrow=False)
fig.update_layout(annotations=annotations)

# Legend symbols
for yc, color in ((321.5, BLUE), (360, RED)):
    fig.add_shape(type="circle", xref="paper", yref="paper", xsizemode="pixel", ysizemode="pixel",
                  xanchor=px_x(761.7), yanchor=px_y(yc), x0=-3.5, x1=3.5, y0=-3.5, y1=3.5,
                  fillcolor=color, line=dict(width=0))

fig.write_html("out.html")
